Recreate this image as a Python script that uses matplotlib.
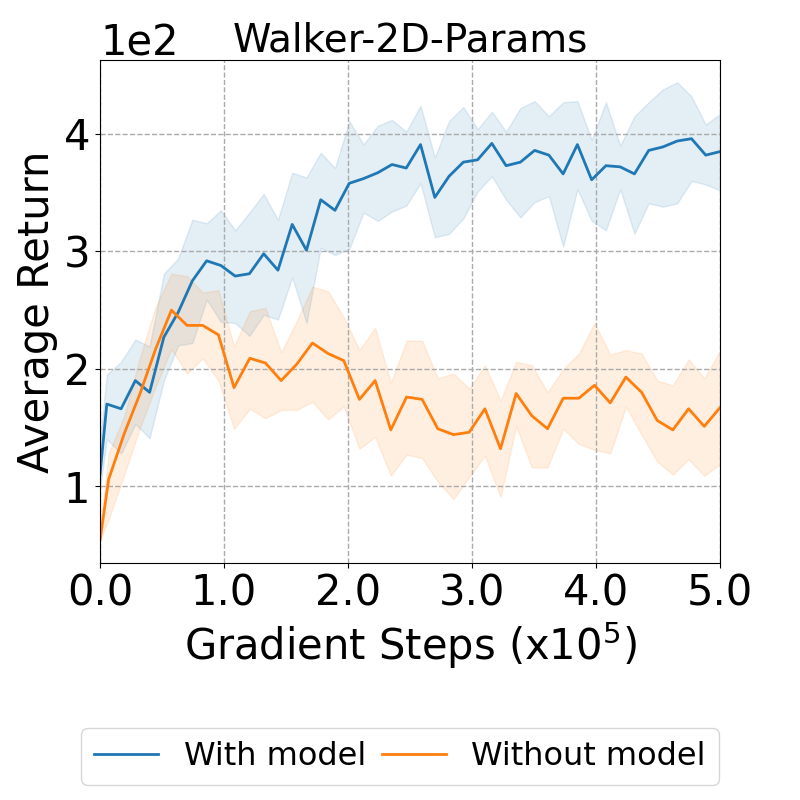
import matplotlib
matplotlib.use("Agg")
import matplotlib.pyplot as plt
from matplotlib.ticker import FormatStrFormatter

# Gradient steps (x1e5) for each series
steps_with = [0.000, 0.055, 0.170, 0.285, 0.400, 0.515, 0.630, 0.745, 0.860, 0.975,
              1.090, 1.205, 1.320, 1.435, 1.550, 1.665, 1.780, 1.895, 2.010, 2.125,
              2.240, 2.355, 2.470, 2.585, 2.700, 2.815, 2.930, 3.045, 3.160, 3.275,
              3.390, 3.505, 3.620, 3.735, 3.850, 3.965, 4.080, 4.195, 4.310, 4.425,
              4.540, 4.655, 4.770, 4.885, 5.000]
with_mean = [110, 170, 166, 190, 180, 227, 248, 275, 292, 288,
             279, 281, 298, 284, 323, 301, 344, 335, 358, 362,
             367, 374, 371, 391, 346, 364, 376, 378, 392, 373,
             376, 386, 382, 366, 391, 361, 373, 372, 366, 386,
             389, 394, 396, 382, 385]
with_upper = [138, 195, 206, 225, 219, 281, 294, 327, 324, 335,
              318, 333, 349, 327, 367, 363, 384, 371, 411, 391,
              407, 412, 402, 424, 380, 411, 423, 404, 419, 402,
              422, 428, 415, 427, 428, 395, 427, 390, 415, 427,
              438, 444, 432, 408, 417]
with_lower = [98, 140, 128, 153, 141, 190, 220, 222, 259, 240,
              239, 228, 246, 242, 278, 239, 303, 297, 302, 333,
              326, 334, 339, 358, 312, 315, 328, 351, 364, 344,
              329, 342, 347, 304, 353, 326, 318, 353, 315, 341,
              338, 341, 360, 357, 352]

steps_without = [0.000, 0.070, 0.196, 0.323, 0.449, 0.576, 0.702, 0.828, 0.955, 1.081,
                 1.208, 1.334, 1.461, 1.587, 1.713, 1.840, 1.966, 2.092, 2.219, 2.345,
                 2.472, 2.598, 2.724, 2.851, 2.977, 3.104, 3.230, 3.356, 3.483, 3.609,
                 3.736, 3.862, 3.988, 4.115, 4.241, 4.368, 4.494, 4.620, 4.747, 4.873,
                 5.000]
without_mean = [54, 106, 145, 179, 217, 250, 237, 237, 229, 184,
                209, 205, 190, 204, 222, 213, 207, 174, 190, 148,
                176, 174, 149, 144, 146, 166, 132, 179, 160, 149,
                175, 175, 186, 171, 193, 180, 156, 148, 166, 151,
                167]
without_upper = [62, 128, 160, 210, 253, 281, 279, 265, 267, 219,
                 249, 252, 214, 241, 270, 266, 244, 216, 235, 188,
                 224, 224, 192, 196, 183, 203, 173, 206, 203, 180,
                 200, 213, 239, 212, 216, 213, 190, 186, 208, 192,
                 215]
without_lower = [54, 72, 110, 150, 185, 217, 196, 209, 190, 149,
                 166, 158, 165, 165, 172, 157, 168, 132, 142, 109,
                 127, 124, 104, 89, 108, 126, 91, 151, 116, 116,
                 149, 136, 131, 128, 168, 144, 121, 110, 123, 109,
                 119]

labels = ["With model", "Without model"]
x_ticks = [0, 1, 2, 3, 4, 5]
y_ticks = [100, 200, 300, 400]

plt.rcParams['xtick.labelsize'] = 30
plt.rcParams['ytick.labelsize'] = 30

fig = plt.figure(figsize=(8, 8), dpi=100)
ax = fig.add_axes([0.125, 0.296, 0.775, 0.629])

c1, c2 = "#1f77b4", "#ff7f0e"
ax.fill_between(steps_with, with_lower, with_upper, color=c1, alpha=0.12, linewidth=1)
ax.plot(steps_with, with_mean, color=c1, linewidth=2, label=labels[0])
ax.fill_between(steps_without, without_lower, without_upper, color=c2, alpha=0.12, linewidth=1)
ax.plot(steps_without, without_mean, color=c2, linewidth=2, label=labels[1])

ax.set_xlim(0, 5)
ax.set_ylim(34.5, 463)
ax.set_xticks(x_ticks)
ax.set_yticks(y_ticks)
ax.xaxis.set_major_formatter(FormatStrFormatter('%.1f'))
ax.ticklabel_format(style='sci', axis='y', scilimits=(0, 0))
ax.yaxis.get_offset_text().set_fontsize(30)
ax.grid(True, linestyle='--', color='#aaaaaa', linewidth=1)

ax.set_title("Walker-2D-Params", fontsize=28)
ax.set_xlabel("Gradient Steps (x10$^5$)", fontsize=30)
ax.set_ylabel("Average Return", fontsize=30)

fig.legend(loc='lower center', bbox_to_anchor=(0.5, 0.019), ncol=2, fontsize=23,
           columnspacing=0.5, borderaxespad=0)

fig.savefig("out.png", dpi=100)
